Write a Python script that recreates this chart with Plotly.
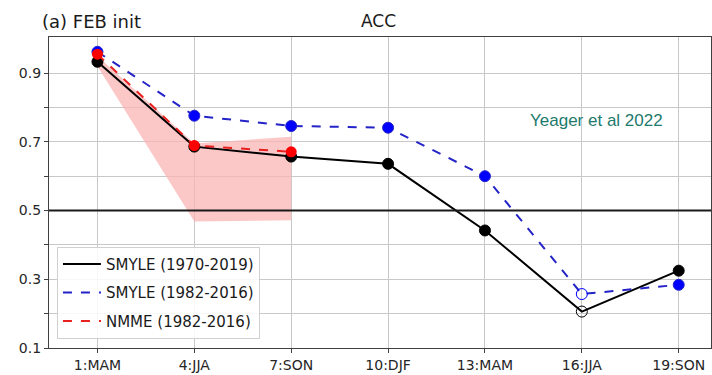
import plotly.graph_objects as go

leads = [1, 4, 7, 10, 13, 16, 19]
tick_labels = ["1:MAM", "4:JJA", "7:SON", "10:DJF", "13:MAM", "16:JJA", "19:SON"]
smyle_long = [0.933, 0.686, 0.657, 0.636, 0.442, 0.206, 0.325]
smyle_short = [0.962, 0.776, 0.746, 0.741, 0.600, 0.257, 0.284]
nmme_leads = [1, 4, 7]
nmme = [0.955, 0.689, 0.671]
nmme_upper = [0.950, 0.695, 0.715]
nmme_lower = [0.920, 0.468, 0.472]
open_lead = 16
series_names = ["SMYLE (1970-2019)", "SMYLE (1982-2016)", "NMME (1982-2016)"]

fig = go.Figure()

# NMME spread shading
fig.add_trace(go.Scatter(
    x=nmme_leads + nmme_leads[::-1],
    y=nmme_upper + nmme_lower[::-1],
    fill="toself", fillcolor="rgba(250,180,180,0.75)",
    line=dict(width=0), mode="lines", showlegend=False, hoverinfo="skip"))

fig.add_hline(y=0.5, line=dict(color="#1a1a1a", width=2))

def symbols(xs):
    return ["circle-open" if x == open_lead else "circle" for x in xs]

black_line = dict(color="black", width=2)
blue_line = dict(color="#2323c8", width=2, dash="dash")
red_line = dict(color="#e82020", width=2, dash="dash")

fig.add_trace(go.Scatter(
    x=leads, y=smyle_long, mode="lines+markers", showlegend=False,
    line=black_line,
    marker=dict(size=11, color="black", symbol=symbols(leads), line=dict(width=1, color="black"))))
fig.add_trace(go.Scatter(
    x=leads, y=smyle_short, mode="lines+markers", showlegend=False,
    line=blue_line,
    marker=dict(size=11, color="#0000ff", symbol=symbols(leads), line=dict(width=1, color="#2323c8"))))
fig.add_trace(go.Scatter(
    x=nmme_leads, y=nmme, mode="lines+markers", showlegend=False,
    line=red_line,
    marker=dict(size=11, color="#ff0000")))

# legend-only entries (lines only, as in the reference)
for i, (nm, ln) in enumerate(zip(series_names, [black_line, blue_line, red_line])):
    fig.add_trace(go.Scatter(x=[None], y=[None], mode="lines", name=nm, line=ln,
                             legendgroup=f"g{i}", showlegend=True))

font_family = "DejaVu Sans"
fig.update_layout(
    width=712, height=375,
    margin=dict(l=49, r=1, t=37, b=27),
    paper_bgcolor="white", plot_bgcolor="white",
    font=dict(family=font_family, size=14, color="#262626"),
    showlegend=True,
    legend=dict(x=0.012, y=0.03, xanchor="left", yanchor="bottom",
                bgcolor="rgba(255,255,255,0.85)", bordercolor="#d0d0d0", borderwidth=1,
                font=dict(size=15, family=font_family, color="#1a1a1a"),
                tracegroupgap=6, itemwidth=38),
    xaxis=dict(range=[-0.5, 20], tickvals=leads, ticktext=tick_labels,
               showgrid=True, gridcolor="#c8c8c8", gridwidth=1,
               showline=True, linecolor="#404040", linewidth=1.2, mirror=True,
               ticks="outside", ticklen=4, tickcolor="#404040", zeroline=False,
               tickfont=dict(size=14)),
    yaxis=dict(range=[0.1, 1.005],
               tickvals=[0.1, 0.2, 0.3, 0.4, 0.5, 0.6, 0.7, 0.8, 0.9],
               ticktext=["0.1", "", "0.3", "", "0.5", "", "0.7", "", "0.9"],
               showgrid=True, gridcolor="#c8c8c8", gridwidth=1,
               showline=True, linecolor="#404040", linewidth=1.2, mirror=True,
               ticks="outside", ticklen=4, tickcolor="#404040", zeroline=False,
               tickfont=dict(size=14)),
)

W, H = 712 - 49 - 1, 375 - 37 - 27
def px(x): return (x - 49) / W
def py(y): return (348 - y) / H
fig.add_annotation(text="(a) FEB init", x=px(40), y=py(21), xref="paper", yref="paper",
                   xanchor="left", yanchor="middle", showarrow=False,
                   font=dict(size=18, family=font_family, color="#1a1a1a"))
fig.add_annotation(text="ACC", x=px(378), y=py(21), xref="paper", yref="paper",
                   xanchor="center", yanchor="middle", showarrow=False,
                   font=dict(size=17, family=font_family, color="#1a1a1a"))
fig.add_annotation(text="Yeager et al 2022", x=px(596), y=py(121), xref="paper", yref="paper",
                   xanchor="center", yanchor="middle", showarrow=False,
                   font=dict(size=17, family="Liberation Sans", color="#1d7a6c"))

fig.write_html("out.html")
